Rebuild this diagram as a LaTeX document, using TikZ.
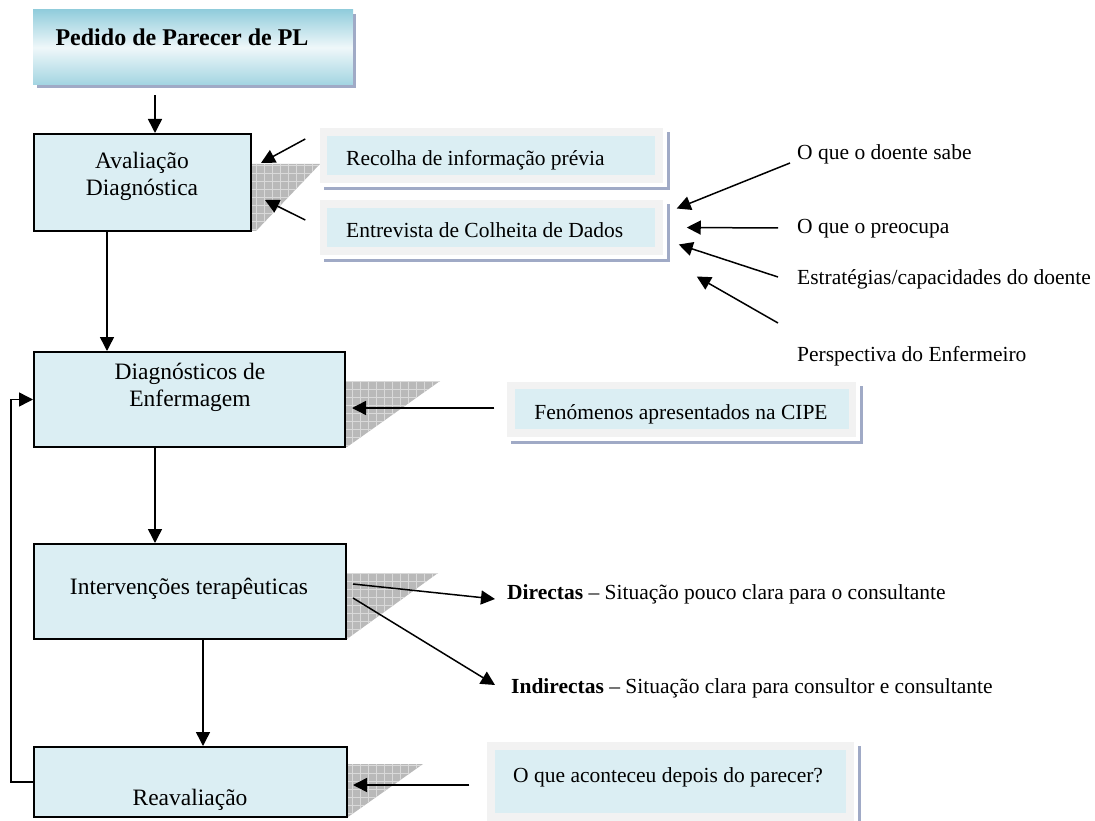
\documentclass[tikz,border=0pt]{standalone}
\usepackage{fontspec}
\setmainfont{Liberation Serif}
\usetikzlibrary{arrows.meta,patterns.meta}
\definecolor{boxblue}{RGB}{219,238,243}
\definecolor{framegray}{RGB}{242,242,242}
\definecolor{tealedge}{RGB}{146,205,220}
\definecolor{stripblue}{RGB}{160,170,198}
\newcommand*{\stripshadow}[2]{%
  \fill[stripblue] ([xshift=4pt,yshift=-#2]#1.south west) rectangle ([xshift=#2+3pt,yshift=-#2-3pt]#1.south east);
  \fill[stripblue] ([xshift=#2,yshift=-4pt]#1.north east) rectangle ([xshift=#2+3pt,yshift=-#2-3pt]#1.south east);}

\begin{document}
\begin{tikzpicture}[x=1pt, y=-1pt,
    mainbox/.style={draw, line width=2pt, fill=boxblue, inner sep=0pt},
    sidebox/.style={draw=framegray, line width=7.5pt, fill=boxblue, inner sep=0pt},
    maintext/.style={inner sep=0pt, align=center, font=\fontsize{23.5}{27}\selectfont},
    sidetext/.style={inner sep=0pt, anchor=west, font=\fontsize{21.5}{26}\selectfont},
    arr/.style={line width=1.5pt, -{Triangle[length=14pt,width=14pt]}},
    tri/.style={fill=gray!55, postaction={pattern={Hatch[angle=0,distance=8pt,line width=0.7pt]},
      pattern color=gray!30}}]
  \useasboundingbox (0,0) rectangle (1095,821);

  % hatched side shadows
  \fill[tri] (251,164) -- (320,164) -- (256,231) -- (251,231) -- cycle;
  \fill[tri] (345,381) -- (440,381) -- (347,447) -- (345,447) -- cycle;
  \fill[tri] (346,573) -- (438,573) -- (347,639) -- (346,639) -- cycle;
  \fill[tri] (347,764) -- (423,764) -- (348,817) -- (347,817) -- cycle;

  \node[inner sep=0pt, minimum width=320pt, minimum height=75pt,
    top color=tealedge, bottom color=tealedge!85, middle color=boxblue!45!white] (pedido) at (193,47.5) {};
  \stripshadow{pedido}{0pt}
  \node[inner sep=0pt, font=\bfseries\fontsize{24}{28}\selectfont] (pedidotxt) at (182,37) {Pedido de Parecer de PL};

  % main column
  \node[mainbox, minimum width=217pt, minimum height=97pt] (aval) at (142.5,182.5) {};
  \node[maintext] (avaltxt) at (142,176) {Avaliação\\Diagnóstica};
  \node[mainbox, minimum width=311pt, minimum height=95pt] (diag) at (189.5,399.5) {};
  \node[maintext] (diagtxt) at (190,387) {Diagnósticos de\\Enfermagem};
  \node[mainbox, minimum width=312pt, minimum height=95pt] (interv) at (190,591.5) {};
  \node[maintext] (intervtxt) at (189,589) {Intervenções terapêuticas};
  \node[mainbox, minimum width=313pt, minimum height=70pt] (reav) at (190.5,782) {};
  \node[maintext] (reavtxt) at (190,800) {Reavaliação};

  % side boxes
  \node[sidebox, minimum width=335.5pt, minimum height=47pt] (recolha) at (491.25,155.5) {};
  \node[sidebox, minimum width=335.5pt, minimum height=47pt] (entrevista) at (491.25,227.5) {};
  \node[sidebox, minimum width=341.5pt, minimum height=47.5pt] (fenomenos) at (681.75,409.25) {};
  \node[sidebox, minimum width=359pt, minimum height=71pt] (aconteceu) at (670.5,781.5) {};
  \stripshadow{recolha}{4pt}
  \stripshadow{entrevista}{4pt}
  \stripshadow{fenomenos}{4pt}
  \stripshadow{aconteceu}{4pt}
  \node[sidetext] (recolhatxt) at (346,160) {Recolha de informação prévia};
  \node[sidetext] (entrevistatxt) at (346,230) {Entrevista de Colheita de Dados};
  \node[sidetext, anchor=center] (fenomenostxt) at (681,414) {Fenómenos apresentados na CIPE};
  \node[sidetext] (aconteceutxt) at (513,777) {O que aconteceu depois do parecer?};

  % labels
  \node[sidetext] (doente) at (797,154) {O que o doente sabe};
  \node[sidetext] (preocupa) at (797,229) {O que o preocupa};
  \node[sidetext] (estrategias) at (797,279) {Estratégias/capacidades do doente};
  \node[sidetext] (perspectiva) at (797,356) {Perspectiva do Enfermeiro};
  \node[sidetext] (directas) at (507,594) {\textbf{Directas} -- Situação pouco clara para o consultante};
  \node[sidetext] (indirectas) at (511,688) {\textbf{Indirectas} -- Situação clara para consultor e consultante};

  % connectors
  \draw[arr, shorten <=10pt] (pedido.south -| 155,0) -- (aval.north -| 155,0);
  \draw[arr] (aval.south -| 107,0) -- (diag.north -| 107,0);
  \draw[arr] (diag.south -| 155,0) -- (interv.north -| 155,0);
  \draw[arr] (interv.south -| 203,0) -- (reav.north -| 203,0);
  \draw[arr] (reav.west) -- ++(-22,0) |- (diag.west);

  \draw[arr] ([shift={(-14.5,-16.5)}]recolha.west) -- ([shift={(9,-19.5)}]aval.east);
  \draw[arr] ([shift={(-14.5,-7.5)}]entrevista.west) -- ([shift={(13,17.5)}]aval.east);
  \draw[arr] ([shift={(-7,9)}]doente.west) -- ([shift={(14,-19)}]entrevista.east);
  \draw[arr] ([shift={(-19,-1)}]preocupa.west) -- ([shift={(24,0)}]entrevista.east);
  \draw[arr] ([shift={(-19,-2)}]estrategias.west) -- ([shift={(16,17)}]entrevista.east);
  \draw[arr] ([shift={(-19,-33)}]perspectiva.west) -- ([shift={(34,49)}]entrevista.east);

  \draw[arr] ([shift={(-13,-1.25)}]fenomenos.west) -- ([shift={(6,8.5)}]diag.east);
  \draw[arr] ([shift={(6,-7.5)}]interv.east) -- ([shift={(-12,5)}]directas.west);
  \draw[arr] ([shift={(6,6.5)}]interv.east) -- ([shift={(-16,-3)}]indirectas.west);
  \draw[arr] ([shift={(-18,3.5)}]aconteceu.west) -- ([shift={(5,3)}]reav.east);
\end{tikzpicture}
\end{document}
